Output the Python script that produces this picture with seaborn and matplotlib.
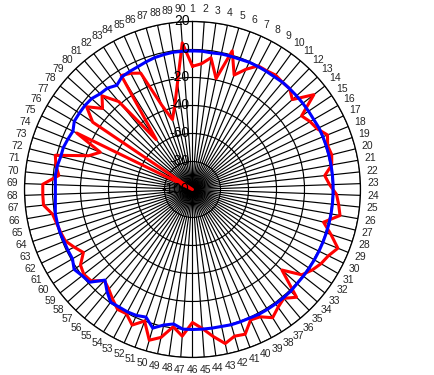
import numpy as np
import pandas as pd
import matplotlib
matplotlib.use("Agg")
import matplotlib.pyplot as plt
import seaborn as sns
from matplotlib.transforms import offset_copy

# ---- data -------------------------------------------------------------
categories = list(range(1, 91))
angle_step_deg = 4

red_db = [-12, -10, -5, -19, 3, -13, -6, 0, 0, 1,
          0, 0, -4, 10, -6, -3, -1, 4, 1.5, 2.5,
          1, -5, -2, 3, 5, 7, -3.5, 4, 12, 8,
          6, 3, -1, -14, 7, 1.5, 4, 8, 3, 2,
          10, 9, 12.5, 6, -0.5, -5, 5, -1, 8, 12,
          0, 6, 0.5, 1, -3, -7, -9.5, -2.5, -1.5, -3.5,
          -10, -6, -2, -1, 0, 1.5, 7, 7, 7, -4,
          -1, 1, -22, -29, -8, -100, -14, -4, -13.5, -7,
          -18, -56, -4, -6, -9, -36, -48, -39, -23, 5]

blue_db = [-1, -1, -1.5, -1, -1, -1, -0.5, -0.5, -0.5, -0.5,
           0, 0, 0, 0, 0, 0, 0.5, 0.5, 0.5, 0.5,
           0.5, 0.5, 0.5, 0.5, 0.5, 0.5, 0.5, 0.5, 0.5, 0.5,
           0.5, 0.5, 0.5, 0.5, 1, 1, 1, 1, 1, 0.5,
           0.5, 0.5, 0, 0, 0, 0, 0, -3, -1, 3,
           -3, -1.5, -1, -1, -0.5, -5, -10, -1, 0, 2,
           -1, -1, -1, -0.5, -0.5, -0.5, -1.5, -2, -2, -1.5,
           -2, -3, -3, -4, -5, -2.5, -2.5, -2.5, -3, -5,
           -5.5, -8, -5, -4.5, -4, -3, -2, -1.5, -1, -1]

r_ticks = [-100, -80, -60, -40, -20, 0, 20]

# ---- table (closed loop) ---------------------------------------------
theta = np.deg2rad((np.array(categories) - 1) * angle_step_deg)
df = pd.DataFrame({
    "theta": np.append(theta, 2 * np.pi),
    "red": red_db + red_db[:1],
    "blue": blue_db + blue_db[:1],
})

sns.set_style("white")
plt.rcParams["font.family"] = ["Liberation Sans", "DejaVu Sans"]

fig = plt.figure(figsize=(4.35, 3.75), dpi=100)
ax = fig.add_axes([0.0563, 0.0467, 0.7724, 0.896], projection="polar")
ax.set_theta_zero_location("N")
ax.set_theta_direction(-1)

sns.lineplot(data=df, x="theta", y="red", color="#ff0000", lw=2.2,
             sort=False, estimator=None, ax=ax, zorder=3)
sns.lineplot(data=df, x="theta", y="blue", color="#0000ff", lw=2.2,
             sort=False, estimator=None, ax=ax, zorder=4)

ax.set_ylim(r_ticks[0], r_ticks[-1])
ax.set_xticks(theta)
ax.set_xticklabels([str(c) for c in categories], fontsize=7.5)
ax.tick_params(axis="x", pad=-1.5)
ax.set_yticks(r_ticks)
ax.set_yticklabels([])
ax.grid(True, color="black", lw=0.85)
ax.spines["polar"].set_color("black")
ax.spines["polar"].set_linewidth(0.9)
ax.set_xlabel("")
ax.set_ylabel("")

lab_tr = offset_copy(ax.transData, fig=fig, x=-3, y=0, units="dots")
for v in r_ticks:
    ax.text(0, v, str(v), transform=lab_tr, ha="right", va="center",
            fontsize=10, color="black", zorder=5)

fig.savefig("out.png", dpi=100, facecolor="white")
